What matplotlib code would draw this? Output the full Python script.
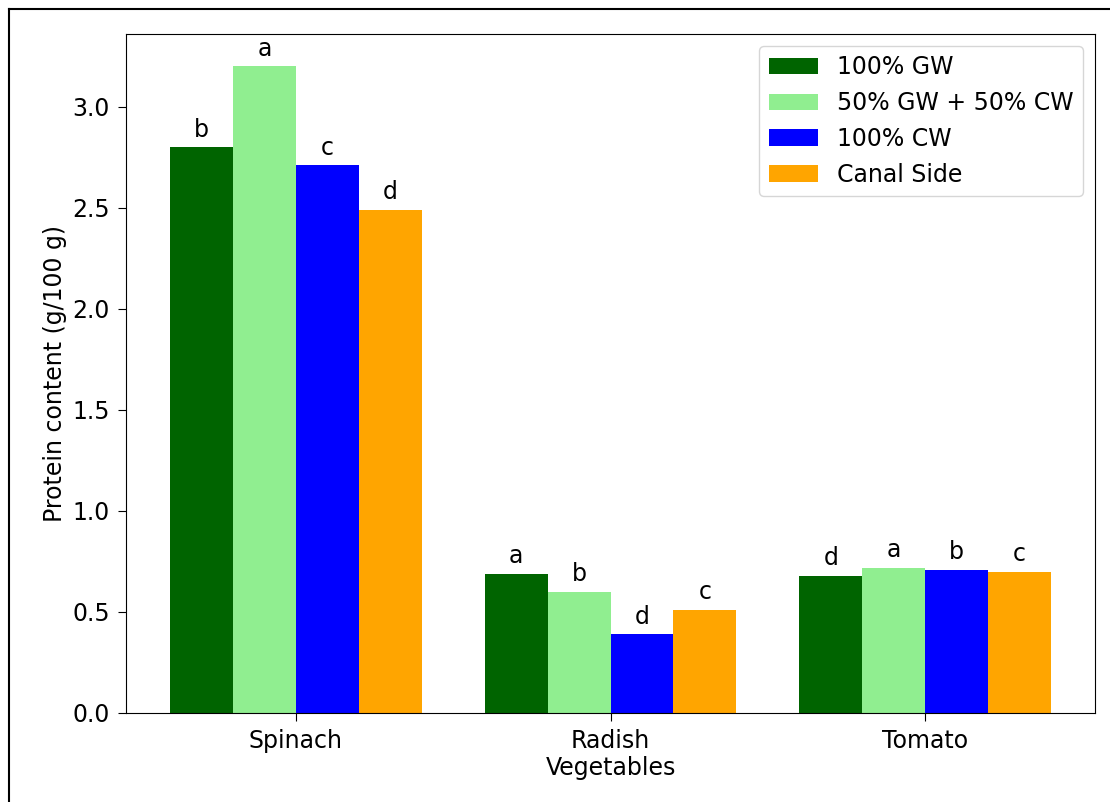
import matplotlib

matplotlib.use("Agg")
import matplotlib.pyplot as plt
from matplotlib.lines import Line2D
import numpy as np

vegetables = ["Spinach", "Radish", "Tomato"]
treatments = ["100% GW", "50% GW + 50% CW", "100% CW", "Canal Side"]
gw100 = [2.80, 0.69, 0.68]
gw50_cw50 = [3.20, 0.60, 0.72]
cw100 = [2.71, 0.39, 0.71]
canal_side = [2.49, 0.51, 0.70]
letters_gw100 = ["b", "a", "d"]
letters_mix = ["a", "b", "a"]
letters_cw100 = ["c", "d", "b"]
letters_canal = ["d", "c", "c"]

series = [gw100, gw50_cw50, cw100, canal_side]
letters = [letters_gw100, letters_mix, letters_cw100, letters_canal]
colors = ["darkgreen", "lightgreen", "blue", "orange"]

plt.rcParams["font.size"] = 17

fig = plt.figure(figsize=(11.1, 8.02), dpi=100)
ax = fig.add_axes([126 / 1110, 1 - 713 / 802, (1095 - 126) / 1110, (713 - 34) / 802])

x = np.arange(len(vegetables))
w = 0.2
for i, (vals, lab, c) in enumerate(zip(series, treatments, colors)):
    bars = ax.bar(x + (i - 1.5) * w, vals, w, color=c, label=lab)
    ax.bar_label(bars, labels=letters[i], padding=4, fontsize=17)

ax.set_xticks(x)
ax.set_xticklabels(vegetables)
ax.tick_params(axis="both", length=6, pad=5.5)
ax.set_xlabel("Vegetables", labelpad=2)
ax.set_ylabel("Protein content (g/100 g)", labelpad=4)
ax.legend(loc="upper right", labelspacing=0.5, handlelength=2.1)

# frame of the screenshot
fig.add_artist(Line2D([9 / 1110, 9 / 1110], [0, 1 - 9 / 802], transform=fig.transFigure,
                      color="black", lw=1.5))
fig.add_artist(Line2D([9 / 1110, 1], [1 - 9 / 802, 1 - 9 / 802], transform=fig.transFigure,
                      color="black", lw=1.5))

fig.savefig("out.png", dpi=100)
